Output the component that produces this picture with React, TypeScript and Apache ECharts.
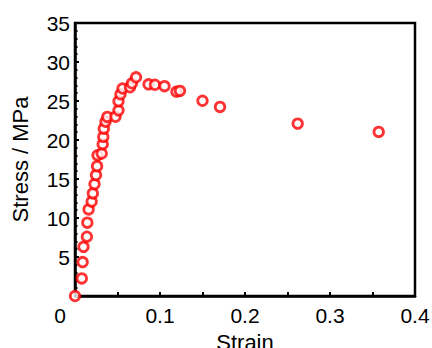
import React, { useEffect, useRef } from "react";
import * as echarts from "echarts";

const strain = [
  0, 0.008, 0.009, 0.010, 0.014, 0.0145, 0.016, 0.0196, 0.021, 0.023, 0.0247, 0.026,
  0.0265, 0.0314, 0.0326, 0.0333, 0.0339, 0.0359, 0.038, 0.0476, 0.0512, 0.0512,
  0.0535, 0.0559, 0.0647, 0.067, 0.0718, 0.0865, 0.094, 0.1053, 0.1194, 0.1235,
  0.15, 0.1706, 0.262, 0.3573,
];
const stress = [
  0, 2.25, 4.35, 6.3, 7.6, 9.4, 11.1, 12.1, 13.15, 14.35, 15.5, 16.65,
  18.05, 18.27, 19.46, 20.4, 21.45, 22.34, 22.96, 22.98, 23.8, 24.97,
  25.86, 26.6, 26.76, 27.27, 28.04, 27.14, 27.08, 26.9, 26.2, 26.3,
  25.03, 24.24, 22.1, 21.04,
];
const xTicks = [0, 0.1, 0.2, 0.3, 0.4];
const yTicks = [5, 10, 15, 20, 25, 30, 35];

const FONT = "Liberation Sans, Arial, sans-serif";

export default function App() {
  const ref = useRef<HTMLDivElement>(null);
  useEffect(() => {
    if (!ref.current) return;
    const chart = echarts.init(ref.current, null, { renderer: "svg" });
    const data = strain.map((x, i) => [x, stress[i]]);
    chart.setOption({
      animation: false,
      grid: {
        left: 75,
        top: 23,
        right: 17,
        bottom: 52,
        containLabel: false,
        outerBoundsMode: "none",
        show: true,
        borderColor: "#000",
        borderWidth: 2.5,
        backgroundColor: "transparent",
      },
      xAxis: {
        type: "value",
        min: xTicks[0],
        max: xTicks[xTicks.length - 1],
        interval: 0.1,
        name: "Strain",
        nameLocation: "middle",
        nameGap: 35,
        nameTextStyle: { fontSize: 22, color: "#000", fontFamily: FONT },
        axisLine: { show: true, lineStyle: { color: "#000", width: 2.5 } },
        axisTick: { show: true, inside: true, length: 4, lineStyle: { color: "#000", width: 2 } },
        minorTick: { show: true, splitNumber: 2, length: 4, lineStyle: { color: "#000", width: 2 } },
        splitLine: { show: false },
        axisLabel: {
          fontSize: 21,
          color: "#000",
          fontFamily: FONT,
          margin: 9,
          formatter: (v: number) => {
            if (!xTicks.some((t) => Math.abs(t - v) < 1e-9)) return "";
            return v === 0 ? "{z|0}" : String(Math.round(v * 10) / 10);
          },
          rich: {
            z: { fontSize: 21, color: "#000", fontFamily: FONT, padding: [0, 30, 0, 0] },
          },
        },
      },
      yAxis: {
        type: "value",
        min: 0,
        max: 35,
        interval: 5,
        name: "Stress / MPa",
        nameLocation: "middle",
        nameGap: 44,
        nameTextStyle: { fontSize: 22, color: "#000", fontFamily: FONT },
        axisLine: { show: true, lineStyle: { color: "#000", width: 2.5 } },
        axisTick: { show: true, inside: true, length: 4, lineStyle: { color: "#000", width: 2 } },
        minorTick: { show: true, splitNumber: 5, length: 2.5, lineStyle: { color: "#000", width: 2 } },
        splitLine: { show: false },
        axisLabel: {
          fontSize: 21,
          color: "#000",
          fontFamily: FONT,
          margin: 5,
          formatter: (v: number) => (yTicks.includes(v) ? String(v) : ""),
        },
      },
      series: [
        {
          type: "scatter",
          data,
          symbol: "circle",
          symbolSize: 9.5,
          itemStyle: { color: "#fff", borderColor: "#ff0000", borderWidth: 2.8 },
          clip: true,
        },
      ],
    });
    return () => chart.dispose();
  }, []);
  return (
    <div
      ref={ref}
      style={{ position: "absolute", left: 0, top: 0, width: 432, height: 348 }}
    />
  );
}
